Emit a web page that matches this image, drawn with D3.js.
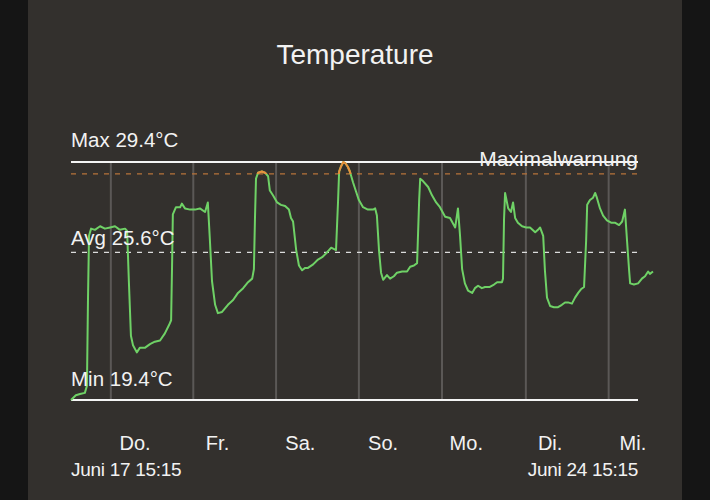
<!DOCTYPE html>
<html>
<head>
<meta charset="utf-8">
<script src="https://cdn.jsdelivr.net/npm/d3@7"></script>
<style>
  body { margin: 0; background: #151515; }
  svg { display: block; }
  text { font-family: "Liberation Sans", Arial, sans-serif; fill: #f2f2f2; }
</style>
</head>
<body>
<script>
// hours since Juni 17 15:15 and temperature (°C)
const hours = [0, 1.4, 2.6, 4.0, 4.6, 4.9, 5.2, 5.8, 6.9, 8.4, 9.8, 11.3, 12.7, 14.1, 15.6, 16.2,
  16.7, 17.3, 17.9, 19.0, 19.9, 21.4, 22.8, 24.2, 25.7, 27.1, 28.3, 28.9,
  29.2, 29.4, 30.3, 31.5, 32.0, 32.9, 34.4, 35.8, 37.2, 38.7, 39.5,
  40.1, 40.7, 41.6, 42.4, 43.6, 45.3, 46.8, 48.2, 49.7, 51.1, 52.3, 52.8,
  53.1, 53.4, 54.0, 55.1, 56.0, 56.9, 57.4, 58.3, 59.5, 60.6, 61.8, 62.9, 63.5, 64.1,
  65.0, 65.8, 66.7, 67.6, 68.4, 69.9, 71.3, 72.5, 73.9, 75.1, 76.5,
  77.1, 77.4, 77.9, 78.6, 79.2, 79.9, 80.5, 81.4, 82.3, 83.1, 84.3, 85.7, 87.2, 87.8, 88.3,
  88.9, 89.5, 90.1, 91.2, 92.1, 93.2, 94.1, 95.6, 97.0, 97.9, 99.0, 99.9,
  100.5, 100.8, 101.6, 103.1, 104.2, 105.4, 106.5, 108.0, 109.4, 110.9, 111.7, 112.3,
  112.9, 113.7, 114.6, 115.8, 116.6, 117.5, 118.6, 119.5, 120.9, 122.1, 123.0, 124.4, 124.7,
  125.0, 125.3, 126.2, 127.0, 127.6, 128.2, 129.0, 130.2, 131.4, 132.5, 134.0, 134.8, 135.4, 136.3,
  136.8, 137.4, 138.3, 139.4, 140.6, 141.7, 142.6, 143.5, 144.6, 145.5, 146.4, 147.2, 148.1,
  148.7, 149.0, 149.8, 150.7, 151.3, 151.8, 152.7, 153.6, 154.7, 155.9, 157.0, 158.2, 159.1, 159.9, 160.5,
  161.1, 161.4, 162.5, 163.7, 164.8, 165.7, 166.6, 167.1, 168.0];
const temps = [19.4, 19.6, 19.65, 19.7, 20.0, 23.6, 26.3, 26.6, 26.55, 26.7, 26.6, 26.65, 26.7, 26.55, 26.6, 26.5,
  24.4, 22.1, 21.7, 21.4, 21.6, 21.6, 21.75, 21.85, 21.9, 22.2, 22.55, 22.75,
  25.3, 27.2, 27.5, 27.5, 27.65, 27.45, 27.4, 27.4, 27.45, 27.3, 27.7,
  26.1, 24.4, 23.4, 23.05, 23.1, 23.4, 23.6, 23.9, 24.1, 24.35, 24.5, 24.9,
  27.0, 28.7, 28.95, 29.0, 28.95, 28.8, 28.2, 28.0, 27.7, 27.6, 27.55, 27.4, 27.05, 26.9,
  25.7, 25.05, 24.85, 24.95, 24.95, 25.1, 25.3, 25.4, 25.6, 25.8, 25.7,
  27.8, 29.0, 29.2, 29.4, 29.35, 29.2, 29.0, 28.55, 28.15, 27.8, 27.5, 27.4, 27.4, 27.45, 27.15,
  25.7, 24.75, 24.45, 24.65, 24.5, 24.6, 24.75, 24.8, 24.8, 25.0, 25.05, 25.15,
  27.8, 28.7, 28.6, 28.35, 28.0, 27.7, 27.5, 27.1, 27.05, 26.65, 27.45, 26.3,
  24.9, 24.3, 24.0, 23.9, 24.1, 24.2, 24.1, 24.15, 24.15, 24.25, 24.35, 24.35, 24.5,
  27.0, 28.1, 27.45, 27.3, 27.7, 27.05, 26.85, 26.7, 26.65, 26.65, 26.45, 26.55, 26.65, 26.3,
  24.85, 23.7, 23.35, 23.3, 23.3, 23.4, 23.5, 23.5, 23.45, 23.7, 23.9, 24.05, 24.15,
  26.1, 27.6, 27.8, 27.9, 28.1, 27.9, 27.45, 27.15, 26.95, 26.85, 26.85, 26.75, 26.9, 27.4, 26.1,
  24.85, 24.3, 24.25, 24.3, 24.5, 24.6, 24.8, 24.7, 24.8];

const dayLabels = ['Do.', 'Fr.', 'Sa.', 'So.', 'Mo.', 'Di.', 'Mi.'];
const dayHours = [11.5, 35.3, 59.2, 83.1, 107.1, 131.3, 155.2];

const maxTemp = 29.4;
const avgTemp = 25.6;
const minTemp = 19.4;
const warnTemp = 28.9;
const startLabel = 'Juni 17 15:15';
const endLabel = 'Juni 24 15:15';

const width = 710, height = 500;
const plotLeft = 71, lineEnd = 638, dataEnd = 653;
const plotTop = 162, plotBottom = 400;

const svg = d3.select('body').append('svg')
    .attr('width', width)
    .attr('height', height);

svg.append('rect')
    .attr('x', 28).attr('y', 0)
    .attr('width', 654).attr('height', height)
    .attr('fill', '#33302d');

const x = d3.scaleLinear().domain([0, 168]).range([plotLeft, dataEnd]);
const y = d3.scaleLinear().domain([minTemp, maxTemp]).range([plotBottom, plotTop]);

svg.append('text')
    .attr('x', 355).attr('y', 64)
    .attr('text-anchor', 'middle')
    .attr('font-size', '28px')
    .text('Temperature');

// day separators
svg.selectAll('.grid')
    .data(dayHours)
    .enter().append('line')
    .attr('class', 'grid')
    .attr('x1', d => x(d)).attr('x2', d => x(d))
    .attr('y1', plotTop).attr('y2', plotBottom)
    .attr('stroke', '#5b5856')
    .attr('stroke-width', 2);

// reference lines
svg.append('line')
    .attr('x1', plotLeft).attr('x2', lineEnd)
    .attr('y1', y(maxTemp)).attr('y2', y(maxTemp))
    .attr('stroke', '#f4f4f4').attr('stroke-width', 2);
svg.append('line')
    .attr('x1', plotLeft).attr('x2', lineEnd)
    .attr('y1', y(minTemp)).attr('y2', y(minTemp))
    .attr('stroke', '#f4f4f4').attr('stroke-width', 2);
svg.append('line')
    .attr('x1', plotLeft).attr('x2', lineEnd)
    .attr('y1', y(avgTemp)).attr('y2', y(avgTemp))
    .attr('stroke', '#dcdcdc').attr('stroke-width', 1.3)
    .attr('stroke-dasharray', '5,6');
svg.append('line')
    .attr('x1', plotLeft).attr('x2', lineEnd)
    .attr('y1', y(warnTemp)).attr('y2', y(warnTemp))
    .attr('stroke', '#b8733a').attr('stroke-width', 1.3)
    .attr('stroke-dasharray', '5,6');

const data = hours.map((h, i) => ({h: h, t: temps[i]}));
const line = d3.line().x(d => x(d.h)).y(d => y(d.t));

svg.append('path')
    .datum(data)
    .attr('d', line)
    .attr('fill', 'none')
    .attr('stroke', '#6fd166')
    .attr('stroke-width', 2)
    .attr('stroke-linejoin', 'round');

// part above the warning level in orange
svg.append('clipPath').attr('id', 'warn')
    .append('rect')
    .attr('x', 0).attr('y', 0)
    .attr('width', width).attr('height', y(warnTemp));

svg.append('path')
    .datum(data)
    .attr('d', line)
    .attr('clip-path', 'url(#warn)')
    .attr('fill', 'none')
    .attr('stroke', '#e98f3c')
    .attr('stroke-width', 2)
    .attr('stroke-linejoin', 'round');

// labels
svg.append('text').attr('x', plotLeft).attr('y', 147)
    .attr('font-size', '20.5px').text('Max ' + maxTemp.toFixed(1) + '°C');
svg.append('text').attr('x', plotLeft).attr('y', 245)
    .attr('font-size', '20.5px').text('Avg ' + avgTemp.toFixed(1) + '°C');
svg.append('text').attr('x', plotLeft).attr('y', 386)
    .attr('font-size', '20.5px').text('Min ' + minTemp.toFixed(1) + '°C');
svg.append('text').attr('x', lineEnd).attr('y', 166)
    .attr('text-anchor', 'end')
    .attr('font-size', '21px').text('Maximalwarnung');

svg.selectAll('.day')
    .data(dayLabels)
    .enter().append('text')
    .attr('class', 'day')
    .attr('x', (d, i) => x(dayHours[i] + 7))
    .attr('y', 450)
    .attr('text-anchor', 'middle')
    .attr('font-size', '20px')
    .text(d => d);

svg.append('text').attr('x', plotLeft).attr('y', 476)
    .attr('font-size', '19px').attr('letter-spacing', '-0.3px').text(startLabel);
svg.append('text').attr('x', lineEnd).attr('y', 476)
    .attr('text-anchor', 'end')
    .attr('font-size', '19px').attr('letter-spacing', '-0.3px').text(endLabel);
</script>
</body>
</html>
